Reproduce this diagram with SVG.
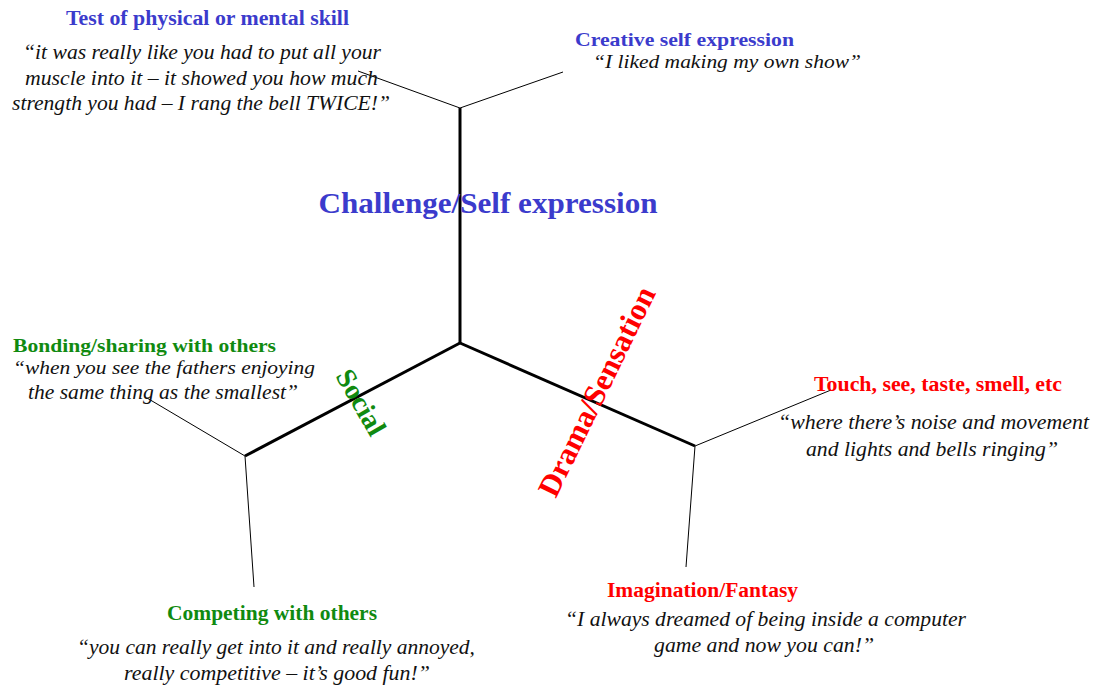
<svg xmlns="http://www.w3.org/2000/svg" width="1100" height="686" viewBox="0 0 1100 686">
<style>
.h{font-family:"Liberation Serif",serif;font-weight:bold;font-size:20.5px}
.q{font-family:"Liberation Serif",serif;font-style:italic;font-size:20.5px;fill:#111}
.s{font-size:19.5px}
.blue{fill:#3b3bcc}
.green{fill:#108a10}
.red{fill:#ff0000}
.thick{stroke:#000;stroke-width:3;fill:none}
.thin{stroke:#000;stroke-width:1;fill:none}
</style>
<rect width="1100" height="686" fill="#fff"/>
<g id="connectors">
<line class="thick" x1="460" y1="343" x2="460" y2="108"/>
<line class="thick" x1="460" y1="343" x2="245" y2="456"/>
<line class="thick" x1="460" y1="343" x2="695" y2="446"/>
<line class="thin" x1="460" y1="108" x2="358" y2="71"/>
<line class="thin" x1="460" y1="108" x2="563" y2="72"/>
<line class="thin" x1="245" y1="456" x2="147" y2="398"/>
<line class="thin" x1="245" y1="456" x2="254" y2="587"/>
<line class="thin" x1="695" y1="446" x2="831" y2="390"/>
<line class="thin" x1="695" y1="446" x2="686" y2="567"/>
</g>
<g id="axis-challenge">
<text class="h blue" x="488" y="213" text-anchor="middle" style="font-size:30px" textLength="339" lengthAdjust="spacingAndGlyphs">Challenge/Self expression</text>
</g>
<g id="axis-social">
<text class="h green" transform="translate(353,407) rotate(60)" text-anchor="middle" style="font-size:28px">Social</text>
</g>
<g id="axis-drama">
<text class="h red" transform="translate(606,396) rotate(-64)" text-anchor="middle" style="font-size:31px">Drama/Sensation</text>
</g>
<g id="node-test">
<text class="h blue" x="66" y="25" textLength="283" lengthAdjust="spacingAndGlyphs">Test of physical or mental skill</text>
<text class="q" x="23" y="59" textLength="358" lengthAdjust="spacingAndGlyphs">“it was really like you had to put all your</text>
<text class="q" x="25" y="85" textLength="353" lengthAdjust="spacingAndGlyphs">muscle into it – it showed you how much</text>
<text class="q" x="12" y="110" textLength="378" lengthAdjust="spacingAndGlyphs">strength you had – I rang the bell TWICE!”</text>
</g>
<g id="node-creative">
<text class="h blue s" x="575" y="46" textLength="219" lengthAdjust="spacingAndGlyphs">Creative self expression</text>
<text class="q s" x="593" y="68" textLength="268" lengthAdjust="spacingAndGlyphs">“I liked making my own show”</text>
</g>
<g id="node-bonding">
<text class="h green s" x="13" y="352" textLength="263" lengthAdjust="spacingAndGlyphs">Bonding/sharing with others</text>
<text class="q s" x="13" y="374" textLength="302" lengthAdjust="spacingAndGlyphs">“when you see the fathers enjoying</text>
<text class="q" x="28" y="399" textLength="270" lengthAdjust="spacingAndGlyphs">the same thing as the smallest”</text>
</g>
<g id="node-competing">
<text class="h green" x="167" y="620" textLength="210" lengthAdjust="spacingAndGlyphs">Competing with others</text>
<text class="q" x="77" y="654" textLength="398" lengthAdjust="spacingAndGlyphs">“you can really get into it and really annoyed,</text>
<text class="q" x="124" y="680" textLength="306" lengthAdjust="spacingAndGlyphs">really competitive – it’s good fun!”</text>
</g>
<g id="node-touch">
<text class="h red" x="814" y="391" textLength="248" lengthAdjust="spacingAndGlyphs">Touch, see, taste, smell, etc</text>
<text class="q" x="778" y="429" textLength="311" lengthAdjust="spacingAndGlyphs">“where there’s noise and movement</text>
<text class="q" x="806" y="456" textLength="252" lengthAdjust="spacingAndGlyphs">and lights and bells ringing”</text>
</g>
<g id="node-imagination">
<text class="h red" x="607" y="597" textLength="191" lengthAdjust="spacingAndGlyphs">Imagination/Fantasy</text>
<text class="q" x="565" y="626" textLength="401" lengthAdjust="spacingAndGlyphs">“I always dreamed of being inside a computer</text>
<text class="q" x="654" y="652" textLength="220" lengthAdjust="spacingAndGlyphs">game and now you can!”</text>
</g>
</svg>
